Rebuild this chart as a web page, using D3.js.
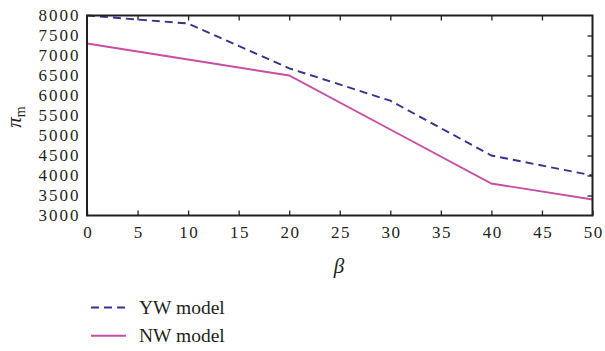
<!DOCTYPE html>
<html>
<head>
  <meta charset="utf-8">
  <script src="https://d3js.org/d3.v7.min.js"></script>
  <style>
    body { margin: 0; background: #fff; }
    svg text { font-family: "Liberation Serif" !important; }
  </style>
</head>
<body>
  <svg id="chart"></svg>
  <script>
    // data
    let betas = [0, 10, 20, 30, 40, 50];
    let ywModel = [8000, 7800, 6680, 5870, 4500, 4000];
    let nwModel = [7300, 6900, 6500, 5150, 3800, 3400];
    let xTicks = [0, 5, 10, 15, 20, 25, 30, 35, 40, 45, 50];
    let yTicks = [3000, 3500, 4000, 4500, 5000, 5500, 6000, 6500, 7000, 7500, 8000];
    let seriesNames = ["YW model", "NW model"];

    let width = 605, height = 351;
    let svg = d3.select("#chart").attr("width", width).attr("height", height);

    let plotL = 87, plotR = 592.5, plotT = 15.5, plotB = 215.5;

    let x = d3.scaleLinear().domain([0, 50]).range([plotL, plotR]);
    let y = d3.scaleLinear().domain([3000, 8000]).range([plotB, plotT]);

    let axisColor = "#231f20";
    let colors = ["#34348e", "#c84ea3"];
    let dashes = ["8,5", null];

    // lines first, frame on top
    let line = d3.line().x(d => x(d[0])).y(d => y(d[1]));
    [ywModel, nwModel].forEach((vals, i) => {
      svg.append("path")
        .datum(betas.map((b, j) => [b, vals[j]]))
        .attr("d", line)
        .attr("fill", "none")
        .attr("stroke", colors[i])
        .attr("stroke-width", 1.9)
        .attr("stroke-dasharray", dashes[i]);
    });

    let axisStyle = g => {
      g.attr("font-family", "Liberation Serif").attr("font-size", 17);
      g.select(".domain").remove();
      g.selectAll("line").attr("stroke", axisColor).attr("stroke-width", 1.3);
      g.selectAll("text").attr("fill", axisColor);
    };

    // bottom axis with labels, ticks pointing in
    svg.append("g")
      .attr("transform", `translate(0,${plotB})`)
      .call(d3.axisBottom(x).tickValues(xTicks).tickFormat(d3.format("d"))
        .tickSizeInner(-5).tickSizeOuter(0).tickPadding(10.5))
      .call(axisStyle)
      .call(g => g.selectAll("text").attr("letter-spacing", 1.5).attr("dx", 0.75));

    // left axis labels only
    svg.append("g")
      .attr("transform", `translate(${plotL},0)`)
      .call(d3.axisLeft(y).tickValues(yTicks).tickFormat(d3.format("d"))
        .tickSize(0).tickPadding(6.5))
      .call(axisStyle)
      .call(g => g.selectAll("text").attr("letter-spacing", 2));

    // mirrored ticks on top and right
    svg.append("g")
      .attr("transform", `translate(0,${plotT})`)
      .call(d3.axisBottom(x).tickValues(xTicks.slice(1, -1)).tickSize(5).tickFormat(""))
      .call(axisStyle);
    svg.append("g")
      .attr("transform", `translate(${plotR},0)`)
      .call(d3.axisLeft(y).tickValues(yTicks.slice(1, -1)).tickSize(5).tickFormat(""))
      .call(axisStyle);

    // frame
    svg.append("rect")
      .attr("x", plotL).attr("y", plotT)
      .attr("width", plotR - plotL).attr("height", plotB - plotT)
      .attr("fill", "none")
      .attr("stroke", axisColor)
      .attr("stroke-width", 2);

    // axis titles
    svg.append("text")
      .attr("x", 339)
      .attr("y", 273)
      .attr("text-anchor", "middle")
      .attr("font-family", "Liberation Serif")
      .attr("font-size", 21)
      .attr("font-style", "italic")
      .attr("fill", axisColor)
      .text("β");

    let yl = svg.append("text")
      .attr("transform", "translate(21,117) rotate(-90)")
      .attr("text-anchor", "middle")
      .attr("font-family", "Liberation Serif")
      .attr("font-size", 21)
      .attr("fill", axisColor);
    yl.append("tspan").attr("font-style", "italic").text("π");
    yl.append("tspan").attr("font-size", 14).attr("dy", 4).text("m");

    // legend
    let legend = svg.append("g")
      .attr("font-family", "Liberation Serif")
      .selectAll("g")
      .data(seriesNames)
      .join("g")
      .attr("transform", (d, i) => `translate(0,${307.5 + i * 28.3})`);
    legend.append("line")
      .attr("x1", 91).attr("x2", 126)
      .attr("stroke", (d, i) => colors[i])
      .attr("stroke-width", 2)
      .attr("stroke-dasharray", (d, i) => dashes[i]);
    legend.append("text")
      .attr("x", 139)
      .attr("y", 6)
      .attr("font-size", 19.5)
      .attr("fill", axisColor)
      .text(d => d);
  </script>
</body>
</html>
